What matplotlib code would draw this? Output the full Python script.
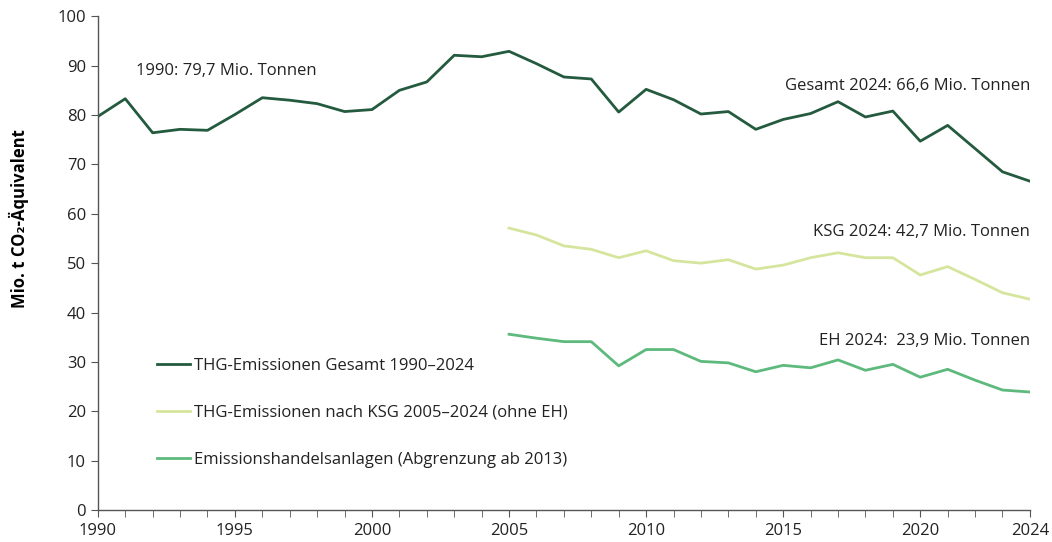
import matplotlib.pyplot as plt
import numpy as np

plt.rcParams['font.family'] = ['Open Sans', 'DejaVu Sans']

years_total = np.arange(1990, 2025)
total = [79.7, 83.3, 76.4, 77.1, 76.9, 80.1, 83.5, 83.0, 82.3, 80.7,
         81.1, 85.0, 86.7, 92.1, 91.8, 92.9, 90.4, 87.7, 87.3, 80.6,
         85.2, 83.1, 80.2, 80.7, 77.1, 79.1, 80.3, 82.7, 79.6, 80.8,
         74.7, 77.9, 73.2, 68.5, 66.6]

years_ksg = np.arange(2005, 2025)
ksg = [57.1, 55.7, 53.5, 52.8, 51.1, 52.5, 50.5, 50.0, 50.7, 48.8,
       49.6, 51.1, 52.1, 51.1, 51.1, 47.6, 49.3, 46.7, 44.0, 42.7]

eh = [35.6, 34.8, 34.1, 34.1, 29.2, 32.5, 32.5, 30.1, 29.8, 28.0,
      29.3, 28.8, 30.4, 28.3, 29.5, 26.9, 28.5, 26.3, 24.3, 23.9]

xtick_years = [1990, 1995, 2000, 2005, 2010, 2015, 2020, 2024]

labels = ['THG-Emissionen Gesamt 1990\u20132024',
          'THG-Emissionen nach KSG 2005\u20132024 (ohne EH)',
          'Emissionshandelsanlagen (Abgrenzung ab 2013)']
colors = ['#245a3e', '#d6e59e', '#5dba7c']

fig = plt.figure(figsize=(10.52, 5.42), dpi=100)
ax = fig.add_axes([0.093, 0.059, 0.886, 0.911])

ax.plot(years_total, total, color=colors[0], lw=2.0, label=labels[0])
ax.plot(years_ksg, ksg, color=colors[1], lw=2.0, label=labels[1])
ax.plot(years_ksg, eh, color=colors[2], lw=2.0, label=labels[2])

ax.set_xlim(1990, 2024)
ax.set_ylim(0, 100)
ax.set_xticks(xtick_years)
ax.set_xticks(np.arange(1990, 2025), minor=True)
ax.set_yticks(np.arange(0, 101, 10))
for s in ['top', 'right']:
    ax.spines[s].set_visible(False)
for s in ['left', 'bottom']:
    ax.spines[s].set_color('#555555')
    ax.spines[s].set_linewidth(1.0)
ax.tick_params(which='both', length=5, color='#555555', labelsize=12,
               labelcolor='#222222')
ax.tick_params(axis='x', pad=4)

ax.set_ylabel('Mio. t CO\u2082-\u00c4quivalent', fontsize=12, fontweight='bold')
ax.yaxis.set_label_coords(-0.074, 0.591)

txt = dict(fontsize=12, color='#222222', va='center')
ax.text(1991.4, 89.0, '1990: 79,7 Mio. Tonnen', ha='left', **txt)
ax.text(2024, 85.9, 'Gesamt 2024: 66,6 Mio. Tonnen', ha='right', **txt)
ax.text(2024, 56.3, 'KSG 2024: 42,7 Mio. Tonnen', ha='right', **txt)
ax.text(2024, 34.2, 'EH 2024:  23,9 Mio. Tonnen', ha='right', **txt)

ax.legend(loc='upper left', bbox_to_anchor=(0.063, 0.308), frameon=False,
          fontsize=12, handlelength=2.0, handletextpad=0.25,
          labelspacing=1.86, borderpad=0, borderaxespad=0,
          labelcolor='#222222')

fig.savefig('out.png', dpi=100)
